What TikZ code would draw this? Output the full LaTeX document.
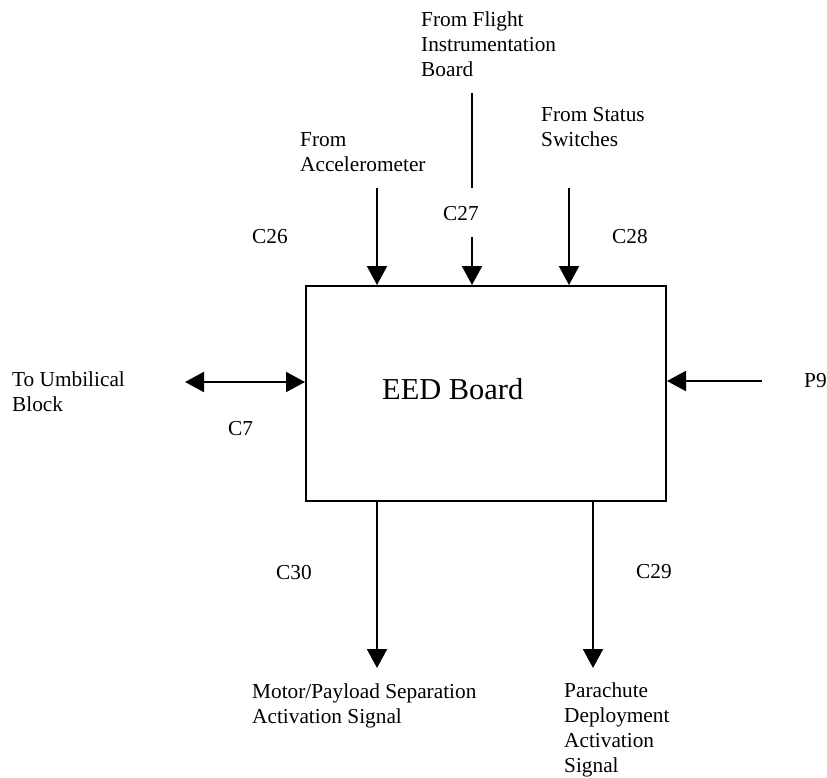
\documentclass[tikz,border=0pt]{standalone}
\usepackage{fontspec}
\setmainfont{Liberation Serif}
\usetikzlibrary{arrows.meta}
\begin{document}
\begin{tikzpicture}[x=1pt,y=-1pt,
  lbl/.style={inner sep=0pt, anchor=base west, align=left,
    font=\fontsize{21.3}{25}\selectfont},
  wire/.style={line width=2pt},
  arr/.style={wire, -{Triangle[length=19pt,width=20pt]}},
  darr/.style={wire, {Triangle[length=19pt,width=20pt]}-{Triangle[length=19pt,width=20pt]}},
  board/.style={draw, line width=2pt, inner sep=0pt, anchor=north west,
    minimum width=360pt, minimum height=215pt}]
\useasboundingbox (0,0) rectangle (827,777);

% main board
\node[board] (eed) at (305,285) {};
\node[lbl, font=\fontsize{30.4}{36}\selectfont] (eedlbl) at (382,399) {EED Board};

% free ends of the connectors
\coordinate (accIn) at (377,188);
\coordinate (fibTop) at (472,93);
\coordinate (fibMid) at (472,188);
\coordinate (fibIn) at (472,237);
\coordinate (swIn) at (569,188);
\coordinate (umb) at (185,382);
\coordinate (p9In) at (762,381);
\coordinate (c30Out) at (377,668);
\coordinate (c29Out) at (593,668);

% inputs from above
\draw[arr] (accIn) -- (accIn |- eed.north);
\draw[wire] (fibTop) -- (fibMid);
\draw[arr] (fibIn) -- (fibIn |- eed.north);
\draw[arr] (swIn) -- (swIn |- eed.north);

% side connections
\draw[darr] (umb) -- (umb -| eed.west);
\draw[arr] (p9In) -- (p9In -| eed.east);

% outputs below
\draw[arr] (c30Out |- eed.south) -- (c30Out);
\draw[arr] (c29Out |- eed.south) -- (c29Out);

% labels (multi-line nodes are placed by the baseline of their last line)
\node[lbl] (tAcc) at (300,171) {From\\Accelerometer};
\node[lbl] (tFib) at (421,76) {From Flight\\Instrumentation\\Board};
\node[lbl] (tSw) at (541,146) {From Status\\Switches};
\node[lbl] (tUmb) at (12,411) {To Umbilical\\Block};
\node[lbl] (tP9) at (804,387) {P9};
\node[lbl] (tC26) at (252,243) {C26};
\node[lbl] (tC27) at (443,220) {C27};
\node[lbl] (tC28) at (612,243) {C28};
\node[lbl] (tC7) at (228,435) {C7};
\node[lbl] (tC30) at (276,579) {C30};
\node[lbl] (tC29) at (636,578) {C29};
\node[lbl] (tMot) at (252,723) {Motor/Payload Separation\\Activation Signal};
\node[lbl] (tPar) at (564,772) {Parachute\\Deployment\\Activation\\Signal};
\end{tikzpicture}
\end{document}
